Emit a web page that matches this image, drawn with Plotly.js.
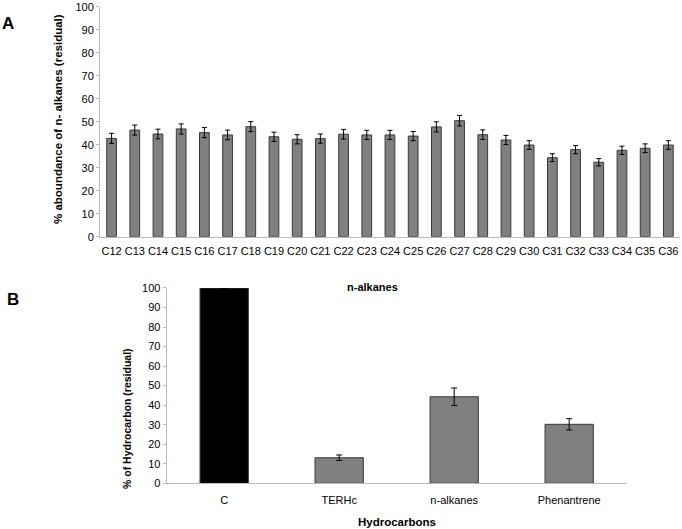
<!DOCTYPE html>
<html>
<head>
<meta charset="utf-8">
<script src="https://cdn.plot.ly/plotly-3.0.1.min.js"></script>
<style>html,body{margin:0;padding:0;background:#fff;}#chart{width:682px;height:529px;}</style>
</head>
<body>
<div id="chart"></div>
<script>
// Panel A data
const alkaneCats = ["C12","C13","C14","C15","C16","C17","C18","C19","C20","C21","C22","C23","C24","C25","C26","C27","C28","C29","C30","C31","C32","C33","C34","C35","C36"];
const alkaneVals = [42.8,46.4,44.7,46.9,45.3,44.3,47.9,43.5,42.4,42.7,44.6,44.3,44.3,43.8,47.8,50.5,44.4,42.1,39.9,34.4,37.9,32.4,37.6,38.5,39.9];
const alkaneErr  = [2.2,2.2,2.1,2.2,2.2,2.1,2.2,2.0,2.0,2.0,2.1,2.0,2.0,2.0,2.2,2.3,2.1,2.0,1.9,1.7,1.8,1.6,1.8,1.9,1.9];

// Panel B data
const hcCats = ["C","TERHc","n-alkanes","Phenantrene"];
const hcVals = [100,13.1,44.3,30.2];
const hcErr  = [0,1.4,4.5,2.9];
const hcColors = ["#000000","#808080","#808080","#808080"];

const tickFont = {family:"Liberation Sans, Arial, sans-serif", size:11, color:"#000"};

const traces = [
  {
    type:"bar", x:alkaneCats, y:alkaneVals, xaxis:"x", yaxis:"y",
    marker:{color:"#808080", line:{color:"#3a3a3a", width:1}},
    error_y:{type:"data", array:alkaneErr, visible:true, color:"#000", thickness:1, width:2.5},
    hoverinfo:"none"
  },
  {
    type:"bar", x:hcCats, y:hcVals, xaxis:"x2", yaxis:"y2",
    marker:{color:hcColors, line:{color:"#3a3a3a", width:1}},
    error_y:{type:"data", array:hcErr, visible:true, color:"#000", thickness:1, width:3},
    hoverinfo:"none"
  }
];

const axisCommon = {showgrid:false, zeroline:false, showline:true, linecolor:"#b8b8b8", linewidth:1, tickfont:tickFont};

const layout = {
  width:682, height:529,
  margin:{l:0,r:0,t:0,b:0},
  paper_bgcolor:"#fff", plot_bgcolor:"#fff",
  showlegend:false,
  bargap:0.58,
  xaxis:Object.assign({}, axisCommon, {domain:[0.1466,0.997], anchor:"y", ticks:"", ticklen:0, ticklabelstandoff:4}),
  yaxis:Object.assign({}, axisCommon, {domain:[0.5526,0.9868], anchor:"x", range:[0,100], dtick:10, ticks:"outside", ticklen:3, tickcolor:"#b8b8b8"}),
  xaxis2:Object.assign({}, axisCommon, {domain:[0.2444,0.9189], anchor:"y2", ticks:"", ticklen:0, ticklabelstandoff:7}),
  yaxis2:Object.assign({}, axisCommon, {domain:[0.0864,0.4556], anchor:"x2", range:[0,100], dtick:10, ticks:"outside", ticklen:3, tickcolor:"#b8b8b8"}),
  annotations:[
    {text:"<b>A</b>", xref:"paper", yref:"paper", x:8/682, y:1-24/529, xanchor:"center", yanchor:"middle", showarrow:false, font:{family:"Liberation Sans, Arial, sans-serif", size:17, color:"#000"}},
    {text:"<b>B</b>", xref:"paper", yref:"paper", x:13/682, y:1-299/529, xanchor:"center", yanchor:"middle", showarrow:false, font:{family:"Liberation Sans, Arial, sans-serif", size:17, color:"#000"}},
    {text:"<b>% aboundance of n- alkanes (residual)</b>", xref:"paper", yref:"paper", x:58/682, y:1-119/529, xanchor:"center", yanchor:"middle", textangle:-90, showarrow:false, font:{family:"Liberation Sans, Arial, sans-serif", size:11.5, color:"#000"}},
    {text:"<b>% of Hydrocarbon (residual)</b>", xref:"paper", yref:"paper", x:127/682, y:1-419/529, xanchor:"center", yanchor:"middle", textangle:-90, showarrow:false, font:{family:"Liberation Sans, Arial, sans-serif", size:10.5, color:"#000"}},
    {text:"<b>n-alkanes</b>", xref:"paper", yref:"paper", x:372/682, y:1-287/529, xanchor:"center", yanchor:"middle", showarrow:false, font:{family:"Liberation Sans, Arial, sans-serif", size:11, color:"#000"}},
    {text:"<b>Hydrocarbons</b>", xref:"paper", yref:"paper", x:397/682, y:1-522/529, xanchor:"center", yanchor:"middle", showarrow:false, font:{family:"Liberation Sans, Arial, sans-serif", size:11.5, color:"#000"}}
  ]
};

Plotly.newPlot("chart", traces, layout, {displayModeBar:false, staticPlot:true});
</script>
</body>
</html>
